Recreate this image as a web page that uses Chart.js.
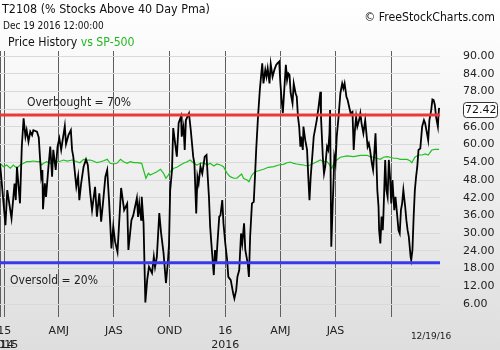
<!DOCTYPE html>
<html>
<head>
<meta charset="utf-8">
<title>T2108</title>
<script src="https://cdn.jsdelivr.net/npm/chart.js@4.4.0/dist/chart.umd.min.js"></script>
<style>
  html, body { margin: 0; padding: 0; background: #fff; }
  #wrap { width: 500px; height: 350px; }
</style>
</head>
<body>
<div id="wrap"><canvas id="chart" width="500" height="350"></canvas></div>
<script>
// day numbers count calendar days from 2015-01-01
const t2108Days = [
  -7, -4, 2, 5, 12, 17, 19, 21, 26, 29, 32, 35, 37, 40, 43, 46, 48, 54, 57, 61,
  63, 64, 67, 69, 73, 76, 79, 81, 85, 88, 91, 94, 100, 102, 106, 110, 112, 114, 119, 122,
  124, 127, 131, 135, 138, 142, 145, 150, 153, 157, 160, 163, 167, 170, 173, 177, 180, 183, 187, 193,
  198, 203, 205, 210, 213, 219, 221, 223, 226, 227, 230, 233, 236, 239, 244, 247, 249, 252, 256, 259,
  263, 267, 270, 272, 274, 277, 279, 285, 288, 292, 293, 296, 298, 300, 305, 308, 312, 314, 317, 319,
  321, 324, 327, 331, 334, 336, 338, 340, 342, 346, 348, 350, 352, 355, 357, 360, 362, 365, 368, 370,
  374, 378, 380, 383, 385, 388, 391, 393, 396, 398, 402, 404, 406, 409, 412, 414, 416, 419, 422, 424,
  426, 428, 431, 433, 435, 438, 440, 443, 446, 449, 451, 454, 456, 458, 460, 462, 465, 467, 469, 471,
  473, 476, 478, 481, 483, 485, 487, 489, 490, 493, 494, 497, 500, 502, 504, 506, 509, 511, 513, 516,
  519, 522, 523, 526, 528, 530, 533, 535, 537, 538, 540, 542, 544, 545, 547, 549, 552, 555, 558, 560,
  562, 565, 567, 570, 572, 575, 577, 579, 581, 583, 586, 588, 590, 593, 596, 598, 600, 602, 604, 607,
  609, 611, 613, 614, 616, 618, 619, 621, 623, 625, 626, 629, 631, 633, 635, 637, 639, 641, 642, 644,
  646, 649, 651, 653, 655, 657, 659, 662, 664, 666, 668, 671, 672, 674, 676, 678, 680, 682, 684, 687,
  690, 693, 695, 698, 700, 702, 705, 707, 709, 711, 713, 716, 717, 718
];
const t2108Values = [
  53.6, 46.8, 32.7, 44.6, 35.0, 46.8, 41.2, 52.5, 40.1, 59.3, 68.9, 62.7, 64.9, 61.0, 64.4, 63.2, 64.9, 64.4, 62.4, 49.1,
  51.4, 38.1, 46.9, 42.3, 52.5, 59.3, 49.1, 58.2, 51.4, 59.3, 62.1, 58.2, 66.3, 60.2, 63.2, 64.9, 58.2, 55.9, 45.7, 49.3,
  41.2, 46.9, 52.5, 55.0, 53.1, 43.5, 37.8, 45.7, 35.6, 43.5, 33.9, 40.1, 49.1, 51.4, 41.2, 24.8, 32.2, 27.1, 23.6, 45.3,
  37.8, 40.0, 24.3, 34.4, 36.0, 41.9, 35.5, 40.0, 34.5, 42.3, 33.4, 6.5, 14.1, 18.6, 16.5, 22.0, 18.5, 22.0, 36.8, 30.0,
  23.3, 13.1, 19.8, 26.0, 44.6, 51.4, 65.6, 55.9, 67.3, 69.6, 62.7, 66.1, 58.2, 68.3, 70.6, 64.9, 55.9, 53.6, 36.7, 49.1,
  46.9, 52.5, 50.2, 55.9, 56.5, 49.1, 42.3, 32.2, 26.5, 15.8, 24.3, 19.8, 26.5, 35.6, 36.0, 41.2, 33.3, 26.5, 21.0, 15.2,
  14.1, 9.6, 7.9, 10.7, 15.2, 17.5, 29.9, 26.5, 33.3, 24.3, 19.8, 15.2, 28.8, 40.1, 40.6, 49.1, 58.2, 69.4, 78.5, 83.0,
  87.5, 80.7, 85.3, 83.0, 85.8, 80.7, 87.3, 83.0, 85.3, 87.0, 87.5, 88.1, 80.7, 75.1, 70.6, 77.4, 87.0, 81.9, 84.1, 83.6,
  77.4, 74.0, 80.7, 77.4, 76.2, 69.4, 66.1, 59.3, 62.7, 58.2, 66.1, 61.5, 58.2, 49.1, 41.2, 49.1, 57.0, 62.7, 64.9, 68.3,
  72.8, 77.9, 69.4, 55.9, 50.2, 52.5, 59.3, 58.2, 63.8, 71.7, 25.4, 37.8, 49.1, 55.9, 53.6, 62.7, 69.4, 77.4, 80.7, 79.0,
  80.7, 76.2, 75.1, 72.3, 70.6, 71.1, 58.2, 64.9, 69.4, 66.1, 68.3, 70.6, 67.2, 63.8, 68.3, 63.8, 59.3, 60.4, 58.2, 53.6,
  51.4, 57.0, 63.8, 58.2, 44.6, 39.0, 31.0, 26.5, 35.6, 31.0, 35.6, 54.8, 44.6, 42.3, 54.8, 49.1, 40.1, 48.0, 44.6, 37.8,
  42.3, 35.6, 31.0, 29.9, 37.8, 40.1, 44.6, 39.0, 34.4, 31.0, 28.8, 22.0, 20.9, 24.3, 35.6, 44.6, 49.1, 52.5, 58.2, 58.7,
  66.1, 68.3, 67.2, 63.8, 61.5, 68.3, 71.7, 75.3, 75.1, 73.4, 69.4, 66.1, 70.0, 72.42
];

const spxDays = [
  -7, -1, 4, 10, 15, 21, 26, 32, 37, 43, 48, 54, 59, 62, 65, 70, 76, 81, 90, 98,
  104, 112, 117, 125, 131, 137, 142, 147, 153, 159, 164, 170, 175, 180, 186, 192, 197, 203, 208, 214,
  219, 227, 230, 234, 238, 241, 247, 252, 258, 263, 267, 271, 274, 280, 285, 291, 296, 302, 307, 313,
  318, 324, 329, 335, 340, 346, 351, 357, 362, 368, 373, 379, 384, 390, 392, 395, 401, 404, 409, 414,
  420, 428, 436, 445, 453, 461, 467, 472, 478, 483, 489, 494, 500, 505, 511, 516, 522, 527, 533, 536,
  541, 544, 549, 555, 566, 577, 588, 599, 604, 610, 615, 621, 626, 632, 637, 643, 648, 654, 659, 665,
  670, 673, 678, 684, 690, 695, 700, 706, 711, 718
];
const spxValues = [
  2078, 2034, 2056, 2013, 2056, 2013, 2056, 2078, 2099, 2099, 2108, 2099, 2099, 2056, 2078, 2099, 2078, 2086, 2099, 2121,
  2108, 2121, 2108, 2086, 2130, 2121, 2121, 2108, 2086, 2099, 2112, 2130, 2078, 2069, 2078, 2130, 2099, 2078, 2099, 2086,
  2086, 2078, 1990, 1882, 1947, 1925, 1947, 1968, 2000, 1947, 1882, 1925, 1968, 2013, 2026, 2056, 2078, 2099, 2121, 2078,
  2056, 2078, 2086, 2056, 2078, 2043, 2069, 2056, 2034, 1947, 1903, 1882, 1882, 1925, 1938, 1882, 1859, 1837, 1925, 1968,
  1981, 2000, 2026, 2034, 2056, 2065, 2086, 2095, 2078, 2069, 2060, 2056, 2043, 2056, 2078, 2099, 2121, 2099, 2099, 2070,
  2010, 2078, 2121, 2157, 2174, 2165, 2183, 2183, 2165, 2157, 2144, 2130, 2157, 2165, 2157, 2144, 2144, 2130, 2130, 2130,
  2112, 2086, 2157, 2187, 2187, 2200, 2187, 2252, 2261, 2261
];

// quarter boundaries on the time axis and their labels
const quarterDays = [-7, 0, 90, 181, 273, 365, 456, 547, 639];
const quarterLabels = [['', '2014'], ['15', '2015'], 'AMJ', 'JAS', 'OND', ['16', '2016'], 'AMJ', 'JAS', ''];
const valueTicks = [6, 12, 18, 24, 30, 36, 42, 48, 54, 60, 66, 72, 78, 84, 90];
const overbought = 70;
const oversold = 20;
const lastDate = '12/19/16';

const firstDay = -7, lastDay = 719.5;

const toPoints = (xs, ys) => xs.map((d, i) => ({ x: d, y: ys[i] }));
const levelLine = v => [{ x: firstDay, y: v }, { x: lastDay, y: v }];

const TICK_FONT = { family: 'DejaVu Sans', size: 11 };
const HEAD_FONT = '"DejaVu Sans Condensed", "Liberation Sans", sans-serif';

const decorations = {
  id: 'decorations',
  beforeDraw(chart) {
    const { ctx, width, height } = chart;
    const g = ctx.createLinearGradient(0, 0, 0, height);
    g.addColorStop(0, '#ffffff');
    g.addColorStop(1, '#dedede');
    ctx.save();
    ctx.fillStyle = g;
    ctx.fillRect(0, 0, width, height);
    ctx.restore();
  },
  afterDraw(chart) {
    const { ctx, scales } = chart;
    const y = scales.y, x = scales.x;
    ctx.save();
    ctx.textBaseline = 'alphabetic';
    ctx.fillStyle = '#111';

    ctx.font = '12.4px ' + HEAD_FONT;
    ctx.fillText('T2108 (% Stocks Above 40 Day Pma)', 2, 13);
    ctx.font = '10px ' + HEAD_FONT;
    ctx.fillText('Dec 19 2016 12:00:00', 3, 28.5);

    ctx.font = '12.2px ' + HEAD_FONT;
    const ph = 'Price History ';
    ctx.fillText(ph, 8, 46);
    ctx.fillStyle = '#22b822';
    ctx.fillText('vs SP-500', 8 + ctx.measureText(ph).width, 46);

    ctx.fillStyle = '#111';
    ctx.textAlign = 'right';
    ctx.fillText('\u00a9 FreeStockCharts.com', 495, 20.5);
    ctx.textAlign = 'left';

    ctx.fillStyle = '#222';
    ctx.font = '12px ' + HEAD_FONT;
    ctx.fillText('Overbought = ' + overbought + '%', 27, 106);
    ctx.fillText('Oversold = ' + oversold + '%', 10, 284);

    // date of the last bar under the axis
    const lastIdx = t2108Days.length - 1;
    ctx.font = '9px DejaVu Sans';
    ctx.textAlign = 'center';
    ctx.textBaseline = 'middle';
    ctx.fillText(lastDate, x.getPixelForValue(t2108Days[lastIdx]) - 8, 337);

    // current value box on the price axis
    const last = t2108Values[lastIdx];
    const by = Math.round(y.getPixelForValue(last)) + 2;
    ctx.beginPath();
    ctx.roundRect(463.5, by - 7.5, 34, 15, 3);
    ctx.fillStyle = '#ffffff';
    ctx.fill();
    ctx.strokeStyle = '#333';
    ctx.lineWidth = 1;
    ctx.stroke();
    ctx.fillStyle = '#111';
    ctx.font = '11px DejaVu Sans';
    ctx.textAlign = 'left';
    ctx.fillText(last.toFixed(2), 465, by + 0.5);
    ctx.restore();
  }
};

new Chart(document.getElementById('chart'), {
  type: 'line',
  data: {
    datasets: [
      {
        data: levelLine(overbought),
        borderColor: '#ee3838', borderWidth: 3, pointRadius: 0, order: 0
      },
      {
        data: levelLine(oversold),
        borderColor: '#3838ee', borderWidth: 3, pointRadius: 0, order: 0
      },
      {
        data: toPoints(t2108Days, t2108Values),
        borderColor: '#000000', borderWidth: 1.8, pointRadius: 0, order: 1
      },
      {
        data: toPoints(spxDays, spxValues),
        yAxisID: 'y2',
        borderColor: '#1fc21f', borderWidth: 1.2, pointRadius: 0, order: 2
      }
    ]
  },
  options: {
    responsive: false,
    animation: false,
    devicePixelRatio: 1,
    layout: { autoPadding: false, padding: { top: 51, left: 0, right: 6, bottom: 0 } },
    plugins: { legend: { display: false }, tooltip: { enabled: false } },
    elements: { line: { tension: 0 } },
    scales: {
      x: {
        type: 'linear',
        min: firstDay,
        max: lastDay,
        afterBuildTicks: s => { s.ticks = quarterDays.map(v => ({ value: v })); },
        afterFit: s => {
          s.height = 33;
          s.paddingLeft = 0;
          s.paddingRight = 0;
        },
        ticks: {
          autoSkip: false,
          maxRotation: 0,
          padding: 8,
          font: { ...TICK_FONT, lineHeight: 1.2 },
          color: '#222',
          callback: (v, i) => quarterLabels[i]
        },
        grid: { color: '#5e5e5e', lineWidth: 1, drawTicks: false },
        border: { display: false }
      },
      y: {
        position: 'right',
        min: 1.6,
        max: 91.7,
        afterBuildTicks: s => { s.ticks = valueTicks.map(v => ({ value: v })); },
        afterFit: s => {
          s.width = 54;
          s.paddingTop = 0;
          s.paddingBottom = 0;
        },
        ticks: {
          crossAlign: 'near',
          padding: 23,
          font: TICK_FONT,
          color: '#222',
          callback: v => (v === 72 ? '' : v.toFixed(2))
        },
        grid: { color: '#d9d9d9', lineWidth: 1, drawTicks: false },
        border: { display: false }
      },
      y2: {
        display: false,
        min: 65,
        max: 3549
      }
    }
  },
  plugins: [decorations]
});
</script>
</body>
</html>
